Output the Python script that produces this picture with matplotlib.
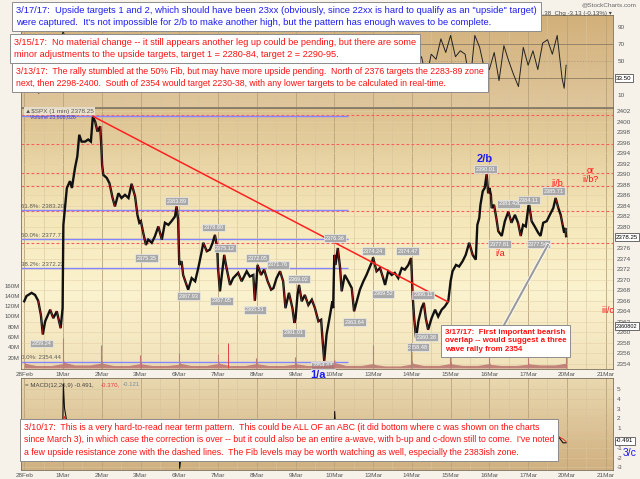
import numpy as np
import matplotlib
matplotlib.use('Agg')
import matplotlib.pyplot as plt
import matplotlib.patheffects as pe
from matplotlib.colors import LinearSegmentedColormap

plt.rcParams['font.family'] = ['Liberation Sans', 'DejaVu Sans']

# ---------------- DATA ----------------
dates = ['28Feb', '1Mar', '2Mar', '3Mar', '6Mar', '7Mar', '8Mar', '9Mar', '10Mar',
         '13Mar', '14Mar', '15Mar', '16Mar', '17Mar', '20Mar', '21Mar']

# SPX 1-min path, t = trading days since 28 Feb open
price_t = [0.00, 0.06, 0.19, 0.28, 0.36, 0.43, 0.48, 0.54, 0.67, 0.75, 0.84, 0.94, 0.99,
           1.01, 1.05, 1.10, 1.18, 1.23, 1.31, 1.37, 1.42, 1.48, 1.57, 1.65, 1.72, 1.77, 1.83, 1.89, 1.96, 1.99,
           2.01, 2.04, 2.13, 2.20, 2.28, 2.34, 2.43, 2.51, 2.60, 2.69, 2.77, 2.86, 2.92, 2.97,
           3.01, 3.07, 3.14, 3.20, 3.29, 3.37, 3.46, 3.55, 3.63, 3.72, 3.80, 3.89, 3.93, 3.97,
           4.00, 4.06, 4.10, 4.19, 4.23, 4.32, 4.41, 4.49, 4.58, 4.62, 4.71, 4.79, 4.86, 4.92, 4.98,
           5.00, 5.05, 5.16, 5.22, 5.31, 5.39, 5.52, 5.61, 5.74, 5.82, 5.91, 5.95, 5.99,
           6.02, 6.11, 6.19, 6.28, 6.37, 6.43, 6.51, 6.60, 6.68, 6.74, 6.83, 6.92, 6.97,
           7.00, 7.05, 7.09, 7.16, 7.24, 7.33, 7.42, 7.50, 7.59, 7.66, 7.70, 7.74, 7.80, 7.89, 7.95, 7.97,
           8.00, 8.03, 8.09, 8.15, 8.19, 8.27, 8.36, 8.45, 8.51, 8.58, 8.66, 8.75, 8.83, 8.92, 8.98,
           9.00, 9.09, 9.18, 9.26, 9.31, 9.39, 9.48, 9.56, 9.65, 9.74, 9.82, 9.91, 9.98,
           10.00, 10.02, 10.06, 10.11, 10.17, 10.25, 10.31, 10.36, 10.42, 10.51, 10.60, 10.68, 10.77, 10.85, 10.94,
           11.00, 11.05, 11.14, 11.22, 11.31, 11.39, 11.48, 11.57, 11.65, 11.69, 11.74, 11.77, 11.83, 11.88, 11.93, 11.97,
           12.00, 12.04, 12.06, 12.12, 12.18, 12.23, 12.32, 12.40, 12.49, 12.57, 12.66, 12.74, 12.81, 12.87, 12.94, 13.00,
           13.02, 13.09, 13.17, 13.26, 13.32, 13.39, 13.48, 13.56, 13.65, 13.71, 13.78, 13.84, 13.89, 13.93, 13.96, 13.98]
price_v = [2365.9, 2366.9, 2367.5, 2367.1, 2366.0, 2363.3, 2359.6, 2362.1, 2364.3, 2362.7, 2364.0, 2360.8, 2364.6,
           2380.4, 2383.6, 2387.4, 2388.7, 2387.4, 2391.2, 2393.4, 2397.5, 2396.2, 2396.2, 2396.6, 2396.2, 2400.9, 2400.0, 2398.1, 2399.1, 2395.3,
           2391.8, 2389.9, 2389.3, 2388.3, 2385.5, 2383.9, 2386.4, 2385.5, 2386.1, 2385.5, 2388.2, 2385.8, 2382.3, 2380.8,
           2381.1, 2378.9, 2376.6, 2377.6, 2377.0, 2378.2, 2380.1, 2377.6, 2380.8, 2380.4, 2381.1, 2382.0, 2383.9, 2381.4,
           2372.8, 2373.5, 2370.9, 2369.0, 2368.1, 2370.3, 2369.7, 2372.2, 2375.4, 2377.0, 2375.4, 2375.7, 2377.0, 2378.5, 2376.0,
           2372.2, 2367.8, 2374.7, 2372.2, 2369.0, 2370.3, 2371.3, 2369.7, 2371.6, 2370.6, 2370.9, 2366.0, 2369.5,
           2372.8, 2370.9, 2371.9, 2369.7, 2368.1, 2368.4, 2370.3, 2371.6, 2369.7, 2364.6, 2367.5, 2364.6, 2361.8,
           2362.7, 2367.1, 2369.0, 2365.9, 2367.1, 2365.2, 2366.2, 2364.6, 2362.1, 2362.4, 2358.3, 2354.6, 2359.6, 2363.3, 2365.9, 2364.6,
           2374.7, 2372.8, 2376.0, 2372.2, 2367.8, 2370.9, 2369.7, 2368.4, 2364.0, 2365.9, 2368.1, 2369.7, 2370.9, 2372.5, 2373.5,
           2374.2, 2371.6, 2372.2, 2370.3, 2369.0, 2371.6, 2370.9, 2371.3, 2370.3, 2372.2, 2371.9, 2372.8, 2374.1,
           2371.0, 2367.1, 2362.7, 2358.9, 2362.1, 2364.6, 2365.6, 2362.7, 2360.5, 2362.7, 2364.3, 2363.0, 2364.3, 2364.9, 2365.9,
           2369.7, 2371.6, 2372.8, 2372.5, 2373.5, 2374.7, 2377.0, 2374.7, 2373.8, 2380.4, 2381.7, 2384.2, 2386.8, 2387.4, 2390.0, 2386.4,
           2387.4, 2386.1, 2383.6, 2384.2, 2381.7, 2379.2, 2378.3, 2381.1, 2382.9, 2380.8, 2382.3, 2380.8, 2378.3, 2380.4, 2380.1, 2383.6,
           2384.6, 2381.1, 2380.1, 2378.9, 2378.3, 2380.8, 2381.1, 2382.3, 2383.6, 2385.5, 2383.6, 2382.3, 2380.4, 2378.9, 2379.8, 2378.25]

# labelled swing points (t, label price, text)
peak_t = [3.93, 4.88, 5.18, 6.02, 6.55, 7.09, 8.02, 9.00, 9.89, 10.29, 11.91, 12.49, 13.02, 13.66]
peak_p = [2384.9, 2379.9, 2376.0, 2374.1, 2372.8, 2370.1, 2377.9, 2375.4, 2375.4, 2367.1, 2391.0, 2384.4, 2385.1, 2386.8]
peak_s = ['2383.89', '2378.80', '2375.12', '2372.05', '2371.76', '2369.02', '2376.36', '2374.24',
          '2374.47', '2366.11', '2390.01', '2383.42', '2384.11', '2385.71']
trough_t = [0.45, 3.16, 4.23, 5.09, 5.95, 6.94, 7.71, 8.53, 9.26, 10.16, 10.38, 12.27, 13.26]
trough_p = [2357.9, 2374.1, 2366.9, 2366.0, 2364.3, 2359.9, 2353.7, 2361.9, 2367.3, 2357.2, 2359.1, 2376.7, 2376.7]
trough_s = ['2359.24', '2375.35', '2367.93', '2367.05', '2365.51', '2361.01', '2354.44', '2363.64',
            '2369.52', '2358.48', '2360.38', '2377.81', '2377.54']

fib_pct = ['100.0%', '61.8%', '50.0%', '38.2%', '0.0%']
fib_lvl = [2400.98, 2383.20, 2377.71, 2372.22, 2354.44]
resist_lvl = [2401.2, 2395.7, 2390.2, 2387.8, 2383.0, 2377.0]

# volume (millions) per day
vol_open = [14, 22, 16, 14, 15, 16, 14, 13, 18, 12, 16, 14, 12, 12]
vol_early = [9, 11, 9, 8, 9, 9, 8, 8, 10, 7, 9, 8, 7, 8]
vol_mid = [5, 6, 5, 5, 5, 5, 5, 5, 5, 4, 5, 5, 5, 6]
vol_late = [8, 9, 8, 7, 8, 8, 7, 7, 8, 7, 8, 8, 7, 9]
vol_close = [58, 45, 25, 30, 27, 19, 21, 15, 45, 49, 31, 39, 35, 30]

# RSI, 8 readings per day
rsi_v = [58, 40, 62, 12, 45, 60, 35, 55,
         85, 70, 78, 66, 72, 60, 25, 50,
         22, 45, 38, 55, 48, 62, 40, 35,
         45, 30, 55, 18, 60, 52, 66, 48,
         28, 40, 35, 62, 70, 55, 64, 45,
         18, 65, 40, 52, 45, 58, 48, 30,
         60, 45, 38, 55, 62, 15, 50, 30,
         58, 45, 50, 40, 48, 20, 65, 60,
         75, 35, 50, 22, 58, 62, 66, 60,
         55, 40, 48, 60, 45, 55, 62, 58,
         25, 48, 55, 30, 58, 52, 76, 60,
         80, 55, 62, 58, 23, 80, 66, 40,
         40, 60, 27, 68, 50, 34, 20, 66,
         45, 62, 40, 71, 75, 58, 80, 30]
rsi_end = [18, 45]

macd_t = [0.00, 0.40, 0.43, 0.48, 0.90, 0.99, 1.01, 1.04, 1.12, 1.40, 1.80, 1.99, 2.01, 2.05, 2.30, 2.97,
          3.02, 3.50, 3.97, 4.00, 4.01, 4.05, 4.20, 4.60, 4.98, 5.01, 5.05, 5.20, 5.60, 5.98, 6.03, 6.74,
          6.97, 7.02, 7.74, 7.95, 8.00, 8.01, 8.03, 8.05, 8.20, 8.50, 8.95, 9.02, 9.50, 9.97, 10.00, 10.02,
          10.08, 10.30, 10.95, 11.01, 11.50, 11.70, 11.90, 12.05, 12.30, 12.60, 12.90, 13.05, 13.30, 13.70, 13.90, 13.98]
macd_v = [0.0, -0.3, -1.2, -0.4, 0.1, 0.3, 5.5, 3.0, 1.2, 0.6, -0.3, 0.1, -2.3, -1.2, -0.4, -0.2,
          0.2, -0.3, 0.3, -0.4, -3.1, -1.8, -0.8, 0.3, 0.1, -2.3, -1.4, 0.3, -0.1, 0.0, 0.3, -0.6,
          -0.5, 0.1, -1.0, 0.4, 1.0, 2.7, 1.2, -1.5, -0.6, -0.3, 0.2, 0.3, 0.0, 0.2, -0.5, -1.8,
          -1.0, -0.2, 0.2, 0.8, 0.3, 1.3, 0.8, -0.3, -0.6, 0.2, -0.3, 0.3, -0.4, 0.6, -0.5, -0.49]
signal_v = [0.0, -0.1, -0.4, -0.4, 0.0, 0.2, 1.5, 2.2, 1.6, 0.8, 0.0, 0.0, -0.6, -1.0, -0.6, -0.2,
            0.0, -0.1, 0.1, -0.1, -0.9, -1.3, -1.0, 0.0, 0.1, -0.6, -1.0, -0.2, 0.0, 0.0, 0.1, -0.3,
            -0.4, 0.0, -0.4, 0.1, 0.3, 0.9, 1.0, 0.2, -0.3, -0.3, 0.1, 0.2, 0.1, 0.1, -0.1, -0.6,
            -0.8, -0.4, 0.1, 0.4, 0.4, 0.8, 0.8, 0.2, -0.3, 0.0, -0.1, 0.1, -0.2, 0.3, -0.1, -0.37]

note_0317 = ('3/17/17:  Upside targets 1 and 2, which should have been 23xx (obviously, since 22xx is hard to qualify as an "upside" target)\n'
             "were captured.  It's not impossible for 2/b to make another high, but the pattern has enough waves to be complete.")
note_0315 = ('3/15/17:  No material change -- it still appears another leg up could be pending, but there are some\n'
             'minor adjustments to the upside targets, target 1 = 2280-84, target 2 = 2290-95.')
note_0313 = ('3/13/17:  The rally stumbled at the 50% Fib, but may have more upside pending.  North of 2376 targets the 2283-89 zone\n'
             'next, then 2298-2400.  South of 2354 would target 2230-38, with any lower targets to be calculated in real-time.')
note_overlap = ('3/17/17:  First important bearish\n'
                'overlap -- would suggest a three\n'
                'wave rally from 2354')
note_0310 = ('3/10/17:  This is a very hard-to-read near term pattern.  This could be ALL OF an ABC (it did bottom where c was shown on the charts\n'
             "since March 3), in which case the correction is over -- but it could also be an entire a-wave, with b-up and c-down still to come.  I've noted\n"
             'a few upside resistance zone with the dashed lines.  The Fib levels may be worth watching as well, especially the 2383ish zone.')

# ---------------- LAYOUT ----------------
W, H = 640.0, 479.0
T0, T1 = -0.083, 15.19
BLUE = '#1c1cf0'
RED = '#ff1010'


def frame(x0, y0, x1, y1):
    return [x0 / W, 1 - y1 / H, (x1 - x0) / W, (y1 - y0) / H]


def fpos(x, y):
    return x / W, 1 - y / H


def gradient(ax, stops):
    cmap = LinearSegmentedColormap.from_list('bg', stops)
    ax.imshow(np.linspace(0, 1, 256).reshape(-1, 1), cmap=cmap, aspect='auto',
              extent=(0, 1, 0, 1), transform=ax.transAxes, origin='upper', zorder=0)


def style(ax):
    for s in ax.spines.values():
        s.set_color('#7a6e5a')
        s.set_linewidth(0.6)
    ax.tick_params(length=0, labelsize=4.6, labelcolor='#555555')
    ax.set_xlim(T0, T1)
    for d in range(16):
        ax.axvline(d, color='#b9a37c', lw=0.6, zorder=1)
        ax.axvline(d + 0.5, color='#d6c49c', lw=0.4, zorder=1)


fig = plt.figure(figsize=(6.4, 4.79), dpi=100)
fig.patch.set_facecolor('#f6f2ea')

# --- top indicator panel ---
ax_r = fig.add_axes(frame(21, 15, 613, 107))
gradient(ax_r, [(0, '#d2b07a'), (1, '#dfc69c')])
style(ax_r)
rsi_t = list(np.arange(len(rsi_v)) / 8.0) + [13.93, 13.98]
ax_r.plot(rsi_t, rsi_v + rsi_end, color='#222222', lw=0.7, zorder=3)
ax_r.axhline(70, color='#8a7d62', lw=0.6, zorder=2)
ax_r.axhline(30, color='#8a7d62', lw=0.6, zorder=2)
ax_r.axhline(50, color='#a8987a', lw=0.5, ls=(0, (2, 2)), zorder=2)
ax_r.set_ylim(-4, 104)
ax_r.yaxis.tick_right()
ax_r.set_yticks([10, 30, 50, 70, 90])
ax_r.set_yticklabels(['10', '', '50', '70', '90'])
ax_r.set_xticks([])

# --- price panel ---
ax_p = fig.add_axes(frame(21, 108, 613, 369))
gradient(ax_p, [(0, '#dcc190'), (0.4, '#f4e6b8'), (0.7, '#fbf3cf'), (1, '#f1e2ba')])
style(ax_p)
for lv in range(2354, 2403, 2):
    ax_p.axhline(lv, color='#e3d1a6', lw=0.4, zorder=1)
ax_p.hlines(resist_lvl, T0, T1, colors='#ff5c5c', linestyles=(0, (2.5, 2)), lw=0.8, zorder=2)
ax_p.hlines(fib_lvl, T0, 8.35, colors='#8585ff', lw=1.0, zorder=3)
# the 100% label sits under the price legend, so only the lower levels get text
for pct, lv in list(zip(fib_pct, fib_lvl))[1:]:
    ax_p.text(T0 + 0.01, lv + 0.25, f'{pct}: {lv:.2f}', fontsize=4.4, color='#5a5a5a',
              va='bottom', ha='left', zorder=3)

ax_p.plot(price_t, price_v, color='#111111', lw=1.7, zorder=4, solid_joinstyle='miter')
for i in range(len(price_v) - 1):
    if price_v[i + 1] < price_v[i] - 1.5:
        ax_p.plot(price_t[i:i + 2], price_v[i:i + 2], color='#d01818', lw=0.45, zorder=5)

ax_p.plot([1.78, 10.93], [2400.98, 2365.8], color='#ff2020', lw=1.1, zorder=5)

box_lbl = dict(boxstyle='square,pad=0.25', fc='#a9a9a9', ec='#ececec', lw=0.5)
for t, p, s in zip(peak_t + trough_t, peak_p + trough_p, peak_s + trough_s):
    ax_p.text(t, p, s, fontsize=4.0, color='white', ha='center', va='center', bbox=box_lbl, zorder=6)

ax_p.plot([12.35, 13.51], [2361.0, 2376.6], color='#9a9a9a', lw=1.5, zorder=6,
          path_effects=[pe.Stroke(linewidth=2.6, foreground='white'), pe.Normal()])

ax_p.text(11.88, 2392.9, '2/b', color=BLUE, fontsize=8, fontweight='bold', ha='center', va='center', zorder=7)
ax_p.text(7.58, 2352.0, '1/a', color=BLUE, fontsize=8, fontweight='bold', ha='center', va='center',
          zorder=7, clip_on=False)
ax_p.text(13.74, 2388.3, 'ii/b', color=RED, fontsize=6.5, ha='center', va='center', zorder=7)
ax_p.text(14.6, 2389.9, 'or\nii/b?', color=RED, fontsize=6.3, ha='center', va='center',
          linespacing=1.0, zorder=7)
ax_p.text(12.27, 2375.0, 'i/a', color=RED, fontsize=6.5, ha='center', va='center', zorder=7)
ax_p.text(15.05, 2364.2, 'iii/c', color=RED, fontsize=6.3, ha='center', va='center', zorder=7)

ax_p.set_ylim(2353.05, 2402.58)
ax_p.set_xticks(range(16))
ax_p.set_xticklabels(dates)
ax_p.tick_params(axis='x', pad=2)

# volume on its own scale (left)
ax_v = ax_p.twinx()
ax_v.set_xlim(T0, T1)
for d in range(14):
    xs = [d, d + 0.03, d + 0.3, d + 0.7, d + 0.95, d + 0.99]
    ys = [vol_open[d], vol_early[d], vol_mid[d], vol_mid[d], vol_late[d], vol_late[d]]
    ax_v.fill_between(xs, 0, [v * 1e6 for v in ys], color='#b26363', alpha=0.75, lw=0, zorder=2)
ax_v.vlines([d + 0.99 for d in range(14)], 0, [v * 1e6 for v in vol_close], color='#c07a7a', lw=0.8, zorder=2)
ax_v.vlines([5.26], 0, [49e6], color='#e04040', lw=0.7, zorder=2)
ax_v.set_ylim(-2e6, 505e6)
ax_v.yaxis.tick_left()
ax_v.set_yticks([20e6, 40e6, 60e6, 80e6, 100e6, 120e6, 140e6, 160e6])
ax_v.set_yticklabels(['20M', '40M', '60M', '80M', '100M', '120M', '140M', '160M'])
ax_v.tick_params(length=0, labelsize=4.4, labelcolor='#555555', pad=1)
for s in ax_v.spines.values():
    s.set_visible(False)

# price scale on the right (after twinx, which moves it); 2378 sits under the last-price box
ax_p.yaxis.tick_right()
price_ticks = list(range(2354, 2403, 2))
ax_p.set_yticks(price_ticks)
ax_p.set_yticklabels(['' if v == 2378 else str(v) for v in price_ticks])
ax_p.tick_params(axis='y', length=0, pad=3, labelsize=4.6, labelcolor='#555555')

# --- MACD panel ---
ax_m = fig.add_axes(frame(21, 378, 613, 470))
gradient(ax_m, [(0, '#ead8b0'), (1, '#d0b080')])
style(ax_m)
for lv in range(-3, 6):
    ax_m.axhline(lv, color='#d9c39a', lw=0.4, zorder=1)
ax_m.plot(macd_t, macd_v, color='#111111', lw=0.8, zorder=4)
ax_m.plot(macd_t, signal_v, color='#e02020', lw=0.6, zorder=4)
ax_m.set_ylim(-3.27, 6.12)
ax_m.yaxis.tick_right()
ax_m.set_yticks(range(-3, 6))
ax_m.set_yticklabels(['-3', '-2', '-1', '', '1', '2', '3', '4', '5'])
ax_m.set_xticks(range(16))
ax_m.set_xticklabels(dates)
ax_m.tick_params(axis='x', pad=2)
ax_m.tick_params(axis='y', pad=3)

# --- header and small labels ---
fig.text(*fpos(636, 5), '@StockCharts.com', fontsize=4.6, color='#666666', ha='right', va='center')
fig.text(*fpos(612, 14), '3.38  Chg -3.13 (-0.13%) ▾',
         fontsize=4.4, color='#444444', ha='right', va='center', zorder=1)
fig.text(*fpos(25, 111), r'▲\$SPX (1 min) 2378.25', fontsize=4.6, color='#555555', va='center',
         bbox=dict(boxstyle='square,pad=0.2', fc='#efe7d4', ec='none', alpha=0.9), zorder=4)
fig.text(*fpos(30, 116.5), 'Volume 23,608,026', fontsize=3.8, color='#4040c0', va='center', zorder=4)
fig.text(*fpos(25, 385), '= MACD(12,26,9) -0.491,', fontsize=4.4, color='#444444', va='center')
fig.text(*fpos(101, 385), '-0.370,', fontsize=4.4, color='#e04040', va='center')
fig.text(*fpos(123, 385), '-0.121', fontsize=4.4, color='#7090a0', va='center')

last_box = dict(boxstyle='square,pad=0.2', fc='white', ec='#333333', lw=0.5)
fig.text(*fpos(616, 237), '2378.25', fontsize=4.4, va='center', bbox=last_box, zorder=6)
fig.text(*fpos(616, 78), '33.50', fontsize=4.4, va='center', bbox=last_box, zorder=6)
fig.text(*fpos(616, 326), '2360802', fontsize=4.0, va='center', bbox=last_box, zorder=6)
fig.text(*fpos(616, 441), '-0.491', fontsize=4.4, va='center', bbox=last_box, zorder=6)
fig.text(*fpos(623, 453), '3/c', fontsize=7.5, color=BLUE, va='center', zorder=7)

# --- commentary boxes ---
note_box = dict(boxstyle='square,pad=0.45', fc='white', ec='#8c8c8c', lw=0.7)
fig.text(*fpos(16, 6), note_0317, fontsize=6.75, color=BLUE, va='top', ha='left',
         linespacing=1.45, bbox=note_box, zorder=10)
fig.text(*fpos(14, 38), note_0315, fontsize=6.6, color=RED, va='top', ha='left',
         linespacing=1.45, bbox=note_box, zorder=11)
fig.text(*fpos(16, 67), note_0313, fontsize=6.35, color=RED, va='top', ha='left',
         linespacing=1.5, bbox=note_box, zorder=12)
fig.text(*fpos(445, 329), note_overlap, fontsize=5.7, color=RED, va='top', ha='left',
         fontweight='bold', linespacing=1.3, bbox=note_box, zorder=10)
fig.text(*fpos(24, 423), note_0310, fontsize=6.3, color=RED, va='top', ha='left',
         linespacing=1.5, bbox=note_box, zorder=10)

fig.savefig('out.png', dpi=100, facecolor=fig.get_facecolor())
